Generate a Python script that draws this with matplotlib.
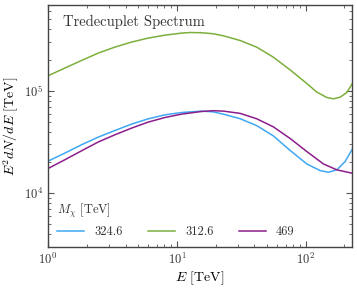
import numpy as np
import matplotlib
matplotlib.use("Agg")
import matplotlib.pyplot as plt

plt.rcParams['font.family'] = 'serif'
plt.rcParams['font.serif'] = ['cmr10']
plt.rcParams['mathtext.fontset'] = 'cm'
plt.rcParams['axes.formatter.use_mathtext'] = True

# Energies (TeV) and log10(E^2 dN/dE)
e_green = [1.0, 1.348, 1.814, 2.444, 3.296, 4.433, 5.974, 8.054, 10.84, 12.66, 15.49,
           19.10, 22.96, 30.96, 41.69, 56.10, 75.66, 102.0, 122.0, 145.8, 164.1, 185.0,
           208.5, 230]
logy_green = [5.147, 5.222, 5.296, 5.368, 5.427, 5.476, 5.515, 5.544, 5.564, 5.570, 5.568,
              5.558, 5.538, 5.492, 5.427, 5.329, 5.205, 5.072, 4.988, 4.935, 4.922, 4.938,
              4.983, 5.07]

e_blue = [1.0, 1.348, 1.814, 2.444, 3.296, 4.433, 5.974, 8.054, 10.84, 15.49, 19.10,
          22.96, 30.96, 41.69, 56.10, 75.66, 102.0, 129.4, 150.1, 174.4, 202.3, 230]
logy_blue = [4.313, 4.391, 4.472, 4.547, 4.612, 4.674, 4.726, 4.765, 4.788, 4.802, 4.795,
             4.772, 4.728, 4.660, 4.560, 4.418, 4.286, 4.221, 4.205, 4.228, 4.309, 4.43]

e_purple = [1.0, 1.348, 1.814, 2.444, 3.296, 4.433, 5.974, 8.054, 10.84, 15.49, 19.10,
            22.96, 30.96, 41.69, 56.10, 75.66, 102.0, 137.2, 174.4, 230]
logy_purple = [4.241, 4.326, 4.413, 4.499, 4.570, 4.635, 4.694, 4.739, 4.772, 4.798, 4.806,
               4.802, 4.780, 4.727, 4.648, 4.535, 4.407, 4.286, 4.228, 4.195]

masses = ["324.6", "312.6", "469"]
colors = ["#3fa7f3", "#7caf3c", "#8c1d8c"]

fig = plt.figure(figsize=(3.57, 2.89), dpi=100)
ax = fig.add_axes([0.1345, 0.1464, 0.8523, 0.8363])

series = [(e_blue, logy_blue), (e_green, logy_green), (e_purple, logy_purple)]
for (e, ly), m, c in zip(series, masses, colors):
    ax.plot(e, 10 ** np.array(ly), color=c, lw=1.1, label=m)

ax.set_xscale('log')
ax.set_yscale('log')
ax.set_xlim(1, 230)
ax.set_ylim(3.0e3, 6.9e5)
ax.set_xlabel(r'$E$ [TeV]', fontsize=10, labelpad=2)
ax.set_ylabel(r'$E^2 dN/dE$ [TeV]', fontsize=10, labelpad=2)

for s in ax.spines.values():
    s.set_color('#444444')
    s.set_linewidth(1.0)
ax.tick_params(which='both', direction='in', top=True, right=True, colors='#555555',
               labelcolor='#333333', labelsize=9)
ax.tick_params(which='major', length=4)
ax.tick_params(which='minor', length=2)

ax.text(0.05, 0.93, 'Tredecuplet Spectrum', transform=ax.transAxes, fontsize=10.5,
        color='#333333', va='center')

leg = ax.legend(loc='lower left', ncol=3, frameon=False, fontsize=9,
                title=r'$M_\chi$ [TeV]', title_fontsize=9, handlelength=2.2,
                columnspacing=2.0, borderaxespad=0.3)
leg._legend_box.align = 'left'
for t in leg.get_texts():
    t.set_color('#333333')
leg.get_title().set_color('#333333')

fig.savefig('out.png', dpi=100)
